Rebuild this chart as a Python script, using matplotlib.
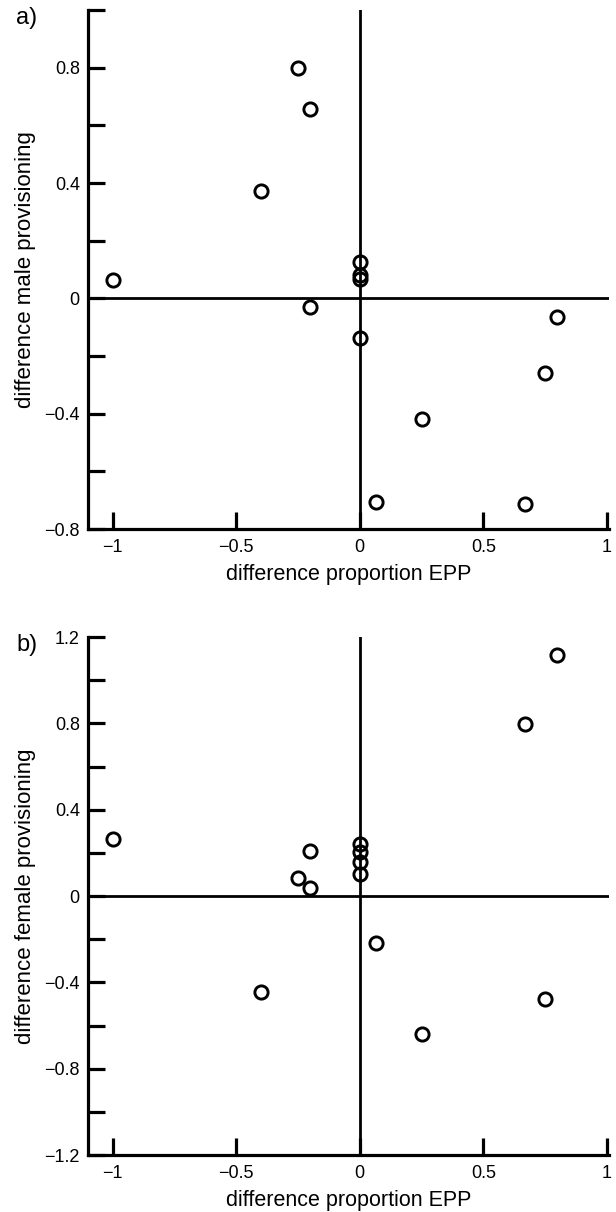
import numpy as np
import matplotlib
matplotlib.use('Agg')
import matplotlib.pyplot as plt
from matplotlib.ticker import MultipleLocator

plt.rcParams['font.family'] = ['Liberation Sans', 'DejaVu Sans']

# panel a: difference in male provisioning vs difference in EPP proportion
epp_a = [-1.0, -0.4, -0.25, -0.2, -0.2, 0.0, 0.0, 0.0, 0.0, 0.067, 0.25, 0.75, 0.8, 0.67]
male_diff = [0.065, 0.373, 0.80, 0.658, -0.03, 0.126, 0.08, 0.068, -0.139,
             -0.706, -0.419, -0.258, -0.065, -0.712]

# panel b: difference in female provisioning vs difference in EPP proportion
epp_b = [-1.0, -0.4, -0.25, -0.2, -0.2, 0.0, 0.0, 0.0, 0.0, 0.067, 0.25, 0.75, 0.8, 0.67]
female_diff = [0.265, -0.446, 0.082, 0.21, 0.038, 0.24, 0.205, 0.159, 0.10,
               -0.219, -0.64, -0.478, 1.118, 0.797]

x_ticks = [-1, -0.5, 0, 0.5, 1]
x_ticklabels = ['\u22121', '\u22120.5', '0', '0.5', '1']


def fmt(v):
    s = ('%.1f' % v).rstrip('0').rstrip('.') if v != 0 else '0'
    return s.replace('-', '\u2212')


def draw_panel(ax, x, y, ylim, yticks, ylabel, tag):
    ax.axhline(0, color='black', lw=2.0, zorder=1)
    ax.axvline(0, color='black', lw=2.0, zorder=1)
    ax.plot(x, y, 'o', ms=9.5, mfc='none', mec='black', mew=2.1, zorder=3,
            clip_on=False)

    ax.set_xlim(-1.1, 1.01)
    ax.set_ylim(*ylim)
    ax.set_xticks(x_ticks)
    ax.set_xticklabels(x_ticklabels)
    ax.set_yticks(yticks)
    ax.set_yticklabels([fmt(v) for v in yticks])
    ax.yaxis.set_minor_locator(MultipleLocator(0.2))

    for s in ['top', 'right']:
        ax.spines[s].set_visible(False)
    for s in ['left', 'bottom']:
        ax.spines[s].set_linewidth(2.3)

    ax.tick_params(axis='both', which='both', direction='in', length=12,
                   width=2.3, labelsize=13)
    ax.tick_params(axis='x', pad=7)
    ax.tick_params(axis='y', pad=6)

    ax.set_xlabel('difference proportion EPP', fontsize=15.5, labelpad=6)
    ax.set_ylabel(ylabel, fontsize=16, labelpad=6)
    ax.text(-0.118, 0.985, tag, transform=ax.transAxes, fontsize=17,
            ha='center', va='center')


fig = plt.figure(figsize=(6.16, 12.12), dpi=100)
ax1 = fig.add_axes([0.143, 0.5635, 0.846, 0.4282])
ax2 = fig.add_axes([0.143, 0.0470, 0.846, 0.4274])

draw_panel(ax1, epp_a, male_diff, (-0.8, 1.0), [-0.8, -0.4, 0, 0.4, 0.8],
           'difference male provisioning', 'a)')
draw_panel(ax2, epp_b, female_diff, (-1.2, 1.2),
           [-1.2, -0.8, -0.4, 0, 0.4, 0.8, 1.2],
           'difference female provisioning', 'b)')

fig.savefig('out.png', dpi=100)
